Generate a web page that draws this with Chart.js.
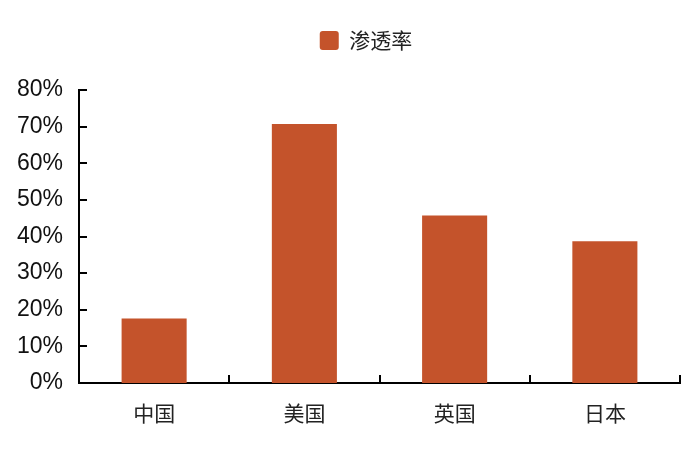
<!DOCTYPE html>
<html>
<head>
<meta charset="utf-8">
<script src="https://cdn.jsdelivr.net/npm/chart.js@4.4.1/dist/chart.umd.min.js"></script>
<style>
  html, body { margin: 0; padding: 0; background: #fff; }
  #wrap { width: 700px; height: 467px; }
</style>
</head>
<body>
<div id="wrap"><canvas id="chart"></canvas></div>
<script>
// 渗透率 by country
const categories = ['中国', '美国', '英国', '日本'];
const rates = [17.6, 70.7, 45.7, 38.7];
const seriesName = '渗透率';
const yMax = 80;
const yStep = 10;

const barColor = '#C4532B';

// legend sits high and a bit right of centre, with a gap under it
const legendGap = {
  id: 'legendGap',
  afterInit(chart) {
    const lg = chart.legend;
    if (!lg) return;
    const fit = lg.fit;
    lg.fit = function () {
      fit.call(this);
      this.height += 33;
    };
    const draw = lg.draw;
    lg.draw = function () {
      const ctx = this.ctx;
      ctx.save();
      ctx.translate(26, 4);
      draw.call(this);
      ctx.restore();
    };
  }
};

// small inward tick marks, like the original
const innerTicks = {
  id: 'innerTicks',
  afterDatasetsDraw(chart) {
    const { ctx, scales: { x, y }, chartArea } = chart;
    ctx.save();
    ctx.strokeStyle = '#000';
    ctx.lineWidth = 2;
    ctx.beginPath();
    y.ticks.forEach(t => {
      if (t.value === 0) return;
      const py = Math.round(y.getPixelForValue(t.value));
      ctx.moveTo(chartArea.left, py);
      ctx.lineTo(chartArea.left + 8, py);
    });
    categories.forEach((c, i) => {
      const px = Math.round(x.getPixelForValue(i + 0.5));
      ctx.moveTo(px, chartArea.bottom);
      ctx.lineTo(px, chartArea.bottom - 8);
    });
    ctx.stroke();
    ctx.restore();
  }
};

new Chart(document.getElementById('chart'), {
  type: 'bar',
  data: {
    labels: categories,
    datasets: [{
      label: seriesName,
      data: rates,
      backgroundColor: barColor,
      borderWidth: 0,
      categoryPercentage: 1,
      barPercentage: 0.433
    }]
  },
  options: {
    responsive: true,
    maintainAspectRatio: false,
    animation: false,
    devicePixelRatio: 1,
    layout: { padding: { left: 0, right: 20, top: 18, bottom: 0 } },
    plugins: {
      legend: {
        position: 'top',
        labels: {
          boxWidth: 19,
          boxHeight: 19,
          padding: 8,
          color: '#222',
          font: { family: '"Noto Sans CJK SC"', size: 21 },
          useBorderRadius: true,
          borderRadius: 3
        }
      },
      tooltip: { enabled: false }
    },
    scales: {
      x: {
        offset: true,
        grid: { display: false, drawTicks: false },
        border: { display: true, color: '#000', width: 2 },
        ticks: {
          padding: 17,
          color: '#222',
          font: { family: '"Noto Sans CJK SC"', size: 21 }
        },
        afterFit(s) { s.height = 84; }
      },
      y: {
        min: 0,
        max: yMax,
        grid: { display: false, drawTicks: false },
        border: { display: true, color: '#000', width: 2 },
        ticks: {
          stepSize: yStep,
          padding: 16,
          color: '#111',
          font: { family: '"Liberation Sans", Arial', size: 23 },
          callback: v => v + '%'
        },
        afterFit(s) { s.width = 79; }
      }
    }
  },
  plugins: [legendGap, innerTicks]
});
</script>
</body>
</html>
